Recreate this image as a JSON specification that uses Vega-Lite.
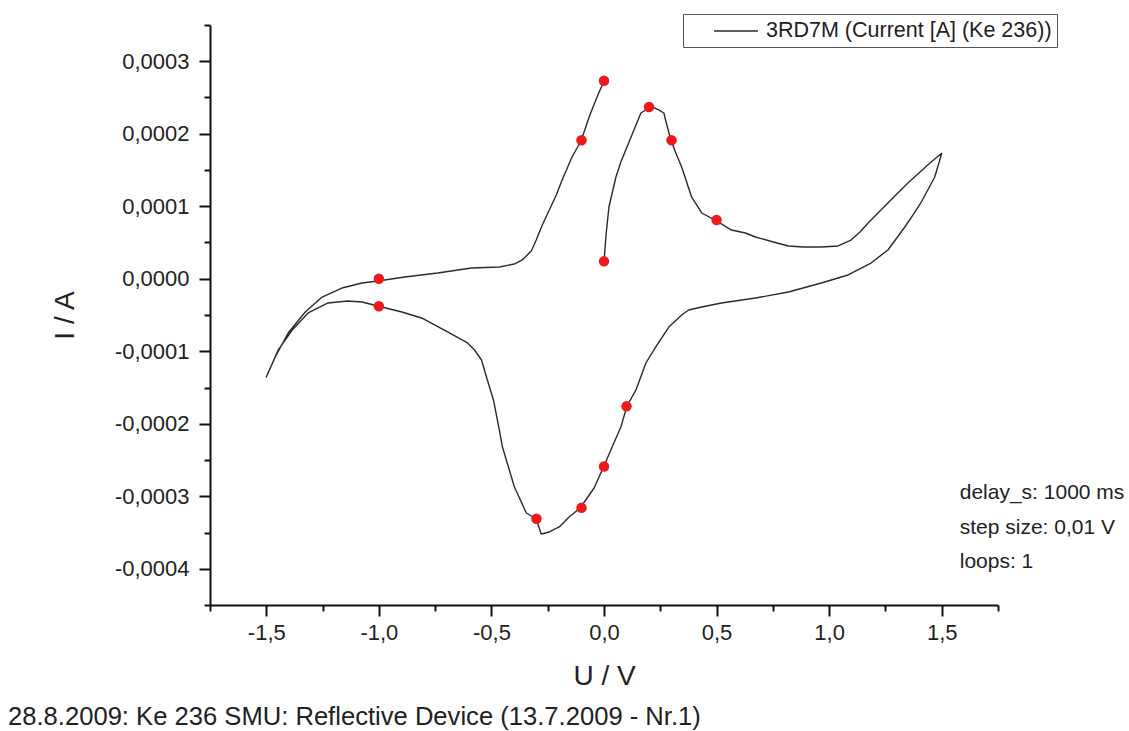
{
  "$schema": "https://vega.github.io/schema/vega-lite/v6.json",
  "width": 788,
  "height": 580,
  "autosize": {"type": "none"},
  "padding": {"left": 210, "top": 25, "right": 131, "bottom": 126},
  "background": "white",
  "config": {"view": {"stroke": null}, "font": "Liberation Sans"},
  "title": {
    "text": "28.8.2009: Ke 236 SMU: Reflective Device (13.7.2009 - Nr.1)",
    "orient": "bottom", "anchor": "start", "frame": "group", "dx": -202, "offset": 15,
    "fontSize": 25.6, "fontWeight": "normal", "color": "#222"
  },
  "resolve": {"axis": {"x": "independent", "y": "independent"}},
  "datasets": {
    "cv": [
      {"i":0,"U":0.000,"I":0.0000231},{"i":1,"U":0.009,"I":0.0000603},{"i":2,"U":0.022,"I":0.0000990},{"i":3,"U":0.053,"I":0.0001403},
      {"i":4,"U":0.075,"I":0.0001610},{"i":5,"U":0.102,"I":0.0001817},{"i":6,"U":0.133,"I":0.0002052},{"i":7,"U":0.164,"I":0.0002286},
      {"i":8,"U":0.199,"I":0.0002355},{"i":9,"U":0.226,"I":0.0002355},{"i":10,"U":0.243,"I":0.0002328},{"i":11,"U":0.266,"I":0.0002286},
      {"i":12,"U":0.279,"I":0.0002121},{"i":13,"U":0.297,"I":0.0001914},{"i":14,"U":0.319,"I":0.0001734},{"i":15,"U":0.345,"I":0.0001541},
      {"i":16,"U":0.367,"I":0.0001334},{"i":17,"U":0.389,"I":0.0001128},{"i":18,"U":0.434,"I":0.0000907},{"i":19,"U":0.500,"I":0.0000797},
      {"i":20,"U":0.566,"I":0.0000672},{"i":21,"U":0.628,"I":0.0000631},{"i":22,"U":0.673,"I":0.0000576},{"i":23,"U":0.752,"I":0.0000507},
      {"i":24,"U":0.819,"I":0.0000452},{"i":25,"U":0.885,"I":0.0000438},{"i":26,"U":0.965,"I":0.0000438},{"i":27,"U":1.040,"I":0.0000452},
      {"i":28,"U":1.097,"I":0.0000534},{"i":29,"U":1.137,"I":0.0000645},{"i":30,"U":1.173,"I":0.0000769},{"i":31,"U":1.217,"I":0.0000907},
      {"i":32,"U":1.261,"I":0.0001045},{"i":33,"U":1.305,"I":0.0001183},{"i":34,"U":1.350,"I":0.0001321},{"i":35,"U":1.394,"I":0.0001445},
      {"i":36,"U":1.438,"I":0.0001569},{"i":37,"U":1.469,"I":0.0001652},{"i":38,"U":1.500,"I":0.0001730},
      {"i":39,"U":1.469,"I":0.0001403},{"i":40,"U":1.438,"I":0.0001224},{"i":41,"U":1.407,"I":0.0001045},{"i":42,"U":1.372,"I":0.0000879},
      {"i":43,"U":1.336,"I":0.0000714},{"i":44,"U":1.297,"I":0.0000548},{"i":45,"U":1.261,"I":0.0000397},{"i":46,"U":1.186,"I":0.0000217},
      {"i":47,"U":1.084,"I":0.0000052},{"i":48,"U":0.965,"I":-0.0000059},{"i":49,"U":0.819,"I":-0.0000183},{"i":50,"U":0.673,"I":-0.0000266},
      {"i":51,"U":0.522,"I":-0.0000334},{"i":52,"U":0.434,"I":-0.0000390},{"i":53,"U":0.376,"I":-0.0000431},{"i":54,"U":0.345,"I":-0.0000500},
      {"i":55,"U":0.288,"I":-0.0000666},{"i":56,"U":0.230,"I":-0.0000941},{"i":57,"U":0.186,"I":-0.0001162},{"i":58,"U":0.142,"I":-0.0001534},
      {"i":59,"U":0.102,"I":-0.0001755},{"i":60,"U":0.075,"I":-0.0002045},{"i":61,"U":0.040,"I":-0.0002293},{"i":62,"U":0.000,"I":-0.0002583},
      {"i":63,"U":-0.044,"I":-0.0002886},{"i":64,"U":-0.106,"I":-0.0003162},{"i":65,"U":-0.155,"I":-0.0003286},{"i":66,"U":-0.199,"I":-0.0003424},
      {"i":67,"U":-0.243,"I":-0.0003493},{"i":68,"U":-0.279,"I":-0.0003521},{"i":69,"U":-0.301,"I":-0.0003314},{"i":70,"U":-0.345,"I":-0.0003231},
      {"i":71,"U":-0.398,"I":-0.0002872},{"i":72,"U":-0.451,"I":-0.0002321},{"i":73,"U":-0.465,"I":-0.0002086},{"i":74,"U":-0.491,"I":-0.0001672},
      {"i":75,"U":-0.522,"I":-0.0001355},{"i":76,"U":-0.544,"I":-0.0001121},{"i":77,"U":-0.575,"I":-0.0000983},{"i":78,"U":-0.606,"I":-0.0000886},
      {"i":79,"U":-0.695,"I":-0.0000734},{"i":80,"U":-0.810,"I":-0.0000541},{"i":81,"U":-0.898,"I":-0.0000459},{"i":82,"U":-1.004,"I":-0.0000376},
      {"i":83,"U":-1.075,"I":-0.0000321},{"i":84,"U":-1.137,"I":-0.0000307},{"i":85,"U":-1.226,"I":-0.0000334},{"i":86,"U":-1.314,"I":-0.0000472},
      {"i":87,"U":-1.385,"I":-0.0000707},{"i":88,"U":-1.447,"I":-0.0000983},{"i":89,"U":-1.500,"I":-0.0001355},
      {"i":90,"U":-1.460,"I":-0.0001079},{"i":91,"U":-1.403,"I":-0.0000748},{"i":92,"U":-1.327,"I":-0.0000459},{"i":93,"U":-1.252,"I":-0.0000252},
      {"i":94,"U":-1.164,"I":-0.0000128},{"i":95,"U":-1.075,"I":-0.0000059},{"i":96,"U":-1.004,"I":-0.0000031},{"i":97,"U":-0.885,"I":0.0000024},
      {"i":98,"U":-0.739,"I":0.0000079},{"i":99,"U":-0.589,"I":0.0000148},{"i":100,"U":-0.465,"I":0.0000162},{"i":101,"U":-0.398,"I":0.0000203},
      {"i":102,"U":-0.363,"I":0.0000259},{"i":103,"U":-0.323,"I":0.0000383},{"i":104,"U":-0.301,"I":0.0000534},{"i":105,"U":-0.274,"I":0.0000741},
      {"i":106,"U":-0.243,"I":0.0000948},{"i":107,"U":-0.212,"I":0.0001155},{"i":108,"U":-0.186,"I":0.0001362},{"i":109,"U":-0.142,"I":0.0001679},
      {"i":110,"U":-0.102,"I":0.0001900},{"i":111,"U":-0.066,"I":0.0002231},{"i":112,"U":-0.031,"I":0.0002507},{"i":113,"U":0.000,"I":0.0002728}
    ],
    "dots": [
      {"U":0.0,"I":0.000273},{"U":-0.1,"I":0.000191},{"U":0.2,"I":0.000237},{"U":0.3,"I":0.000191},
      {"U":0.5,"I":0.000081},{"U":0.0,"I":0.000024},{"U":-1.0,"I":0.0},{"U":-1.0,"I":-0.000038},
      {"U":-0.3,"I":-0.000331},{"U":-0.1,"I":-0.000316},{"U":0.0,"I":-0.000259},{"U":0.1,"I":-0.000176}
    ],
    "notes": [
      {"U":1.58,"I":-0.0002955,"label":"delay_s: 1000 ms"},
      {"U":1.58,"I":-0.0003438,"label":"step size: 0,01 V"},
      {"U":1.58,"I":-0.0003907,"label":"loops: 1"}
    ]
  },
  "layer": [
    {
      "data": {"name": "cv"},
      "mark": {"type": "line", "strokeWidth": 1.4, "strokeJoin": "round"},
      "encoding": {
        "x": {
          "field": "U", "type": "quantitative",
          "scale": {"domain": [-1.75, 1.75], "nice": false, "zero": false},
          "axis": {
            "orient": "bottom",
            "title": "U / V", "titleFontSize": 28, "titleFontWeight": "normal", "titleColor": "#222", "titlePadding": 19,
            "values": [-1.5,-1.0,-0.5,0,0.5,1.0,1.5],
            "labelExpr": "(datum.value < 0 ? '-' : '') + replace(format(abs(datum.value), '.1f'), '.', ',')",
            "labelFontSize": 22, "labelColor": "#222", "labelPadding": 6, "labelFlush": false, "labelOverlap": false,
            "domainColor": "#111", "domainWidth": 2, "tickColor": "#111", "tickWidth": 2, "tickSize": 11,
            "grid": false
          }
        },
        "y": {
          "field": "I", "type": "quantitative",
          "scale": {"domain": [-0.00045, 0.00035], "nice": false, "zero": false},
          "axis": {
            "orient": "left",
            "title": "I / A", "titleFontSize": 28, "titleFontWeight": "normal", "titleColor": "#222", "titlePadding": 35,
            "values": [-0.0004,-0.0003,-0.0002,-0.0001,0,0.0001,0.0002,0.0003],
            "labelExpr": "(datum.value < 0 ? '-' : '') + replace(format(abs(datum.value), '.4f'), '.', ',')",
            "labelFontSize": 22, "labelColor": "#222", "labelPadding": 10, "labelFlush": false, "labelOverlap": false,
            "domainColor": "#111", "domainWidth": 2, "tickColor": "#111", "tickWidth": 2, "tickSize": 11,
            "grid": false
          }
        },
        "order": {"field": "i", "type": "quantitative"},
        "stroke": {
          "datum": "3RD7M (Current [A] (Ke 236))",
          "type": "nominal",
          "scale": {"range": ["#2b2b2b"]},
          "legend": {
            "title": null, "orient": "none", "legendX": 473, "legendY": -11,
            "symbolType": "M-2,0H2", "symbolSize": 484, "symbolStrokeWidth": 1.4, "symbolOffset": 36,
            "labelFontSize": 21.5, "labelColor": "#222", "labelOffset": 18, "labelLimit": 500,
            "padding": 5, "strokeColor": "#555", "fillColor": "white"
          }
        }
      }
    },
    {
      "data": {"name": "dots"},
      "mark": {"type": "circle", "size": 110, "color": "#ee1a1a", "opacity": 1},
      "encoding": {
        "x": {
          "field": "U", "type": "quantitative",
          "axis": {
            "orient": "bottom", "title": null, "labels": false, "domain": false, "grid": false,
            "values": [-1.75,-1.25,-0.75,-0.25,0.25,0.75,1.25,1.75],
            "tickColor": "#111", "tickWidth": 2, "tickSize": 6
          }
        },
        "y": {
          "field": "I", "type": "quantitative",
          "axis": {
            "orient": "left", "title": null, "labels": false, "domain": false, "grid": false,
            "values": [-0.00045,-0.00035,-0.00025,-0.00015,-0.00005,0.00005,0.00015,0.00025,0.00035],
            "tickColor": "#111", "tickWidth": 2, "tickSize": 6
          }
        }
      }
    },
    {
      "data": {"name": "notes"},
      "mark": {"type": "text", "align": "left", "baseline": "middle", "fontSize": 21, "color": "#222"},
      "encoding": {
        "x": {"field": "U", "type": "quantitative", "axis": null},
        "y": {"field": "I", "type": "quantitative", "axis": null},
        "text": {"field": "label"}
      }
    }
  ]
}
